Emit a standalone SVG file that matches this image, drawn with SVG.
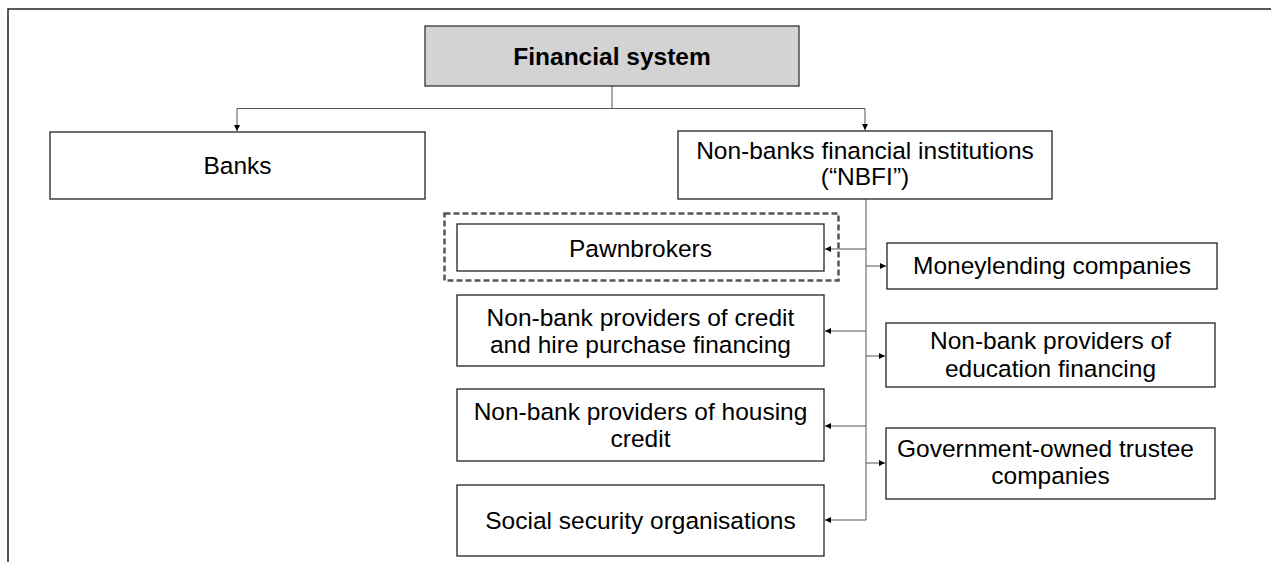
<svg xmlns="http://www.w3.org/2000/svg" width="1271" height="562" viewBox="0 0 1271 562">
  <defs>
    <marker id="arr" viewBox="0 0 10 10" refX="10" refY="5" markerWidth="6" markerHeight="6" orient="auto" markerUnits="userSpaceOnUse">
      <path d="M0,0 L10,5 L0,10 z" fill="#000"/>
    </marker>
    <style>
      .box { fill: #fff; stroke: #222; stroke-width: 1.3; }
      .root { fill: #d3d3d3; stroke: #333; stroke-width: 1.3; }
      .dash { fill: none; stroke: #555; stroke-width: 2.5; stroke-dasharray: 6 3; }
      .lbl { font-family: "Liberation Sans", Arial, sans-serif; font-size: 24.5px; fill: #000; text-anchor: middle; }
      .bold { font-weight: bold; }
      .con { fill: none; stroke: #555; stroke-width: 1; }
      .frame { fill: none; stroke: #222; stroke-width: 1.5; }
    </style>
  </defs>

  <rect width="1271" height="562" fill="#fff"/>

  <!-- outer frame (top and left edges) -->
  <path class="frame" d="M8,562 V9 H1271"/>

  <!-- connectors -->
  <g id="connectors">
    <path class="con" d="M612,86 V108.5 H237 V131" marker-end="url(#arr)"/>
    <path class="con" d="M612,108.5 H865 V130" marker-end="url(#arr)"/>
    <path class="con" d="M866,199 V520"/>
    <path class="con" d="M866,249 H825" marker-end="url(#arr)"/>
    <path class="con" d="M866,266 H886" marker-end="url(#arr)"/>
    <path class="con" d="M866,331 H825" marker-end="url(#arr)"/>
    <path class="con" d="M866,356 H885" marker-end="url(#arr)"/>
    <path class="con" d="M866,426 H825" marker-end="url(#arr)"/>
    <path class="con" d="M866,463 H885" marker-end="url(#arr)"/>
    <path class="con" d="M866,520 H825" marker-end="url(#arr)"/>
  </g>

  <g id="financial-system">
    <rect class="root" x="425" y="26" width="374" height="60"/>
    <text class="lbl bold" x="612" y="64.5">Financial system</text>
  </g>

  <g id="banks">
    <rect class="box" x="50" y="132" width="375" height="67"/>
    <text class="lbl" x="237.5" y="174">Banks</text>
  </g>

  <g id="nbfi">
    <rect class="box" x="678" y="131" width="374" height="68"/>
    <text class="lbl" x="865" y="158.5">Non-banks financial institutions</text>
    <text class="lbl" x="865" y="185">(“NBFI”)</text>
  </g>

  <g id="pawnbrokers">
    <rect class="dash" x="444.5" y="213.5" width="394" height="67"/>
    <rect class="box" x="457" y="224" width="367" height="47"/>
    <text class="lbl" x="640.5" y="256.5">Pawnbrokers</text>
  </g>

  <g id="moneylending">
    <rect class="box" x="887" y="243" width="330" height="46"/>
    <text class="lbl" x="1052" y="274">Moneylending companies</text>
  </g>

  <g id="credit-hire-purchase">
    <rect class="box" x="457" y="295" width="367" height="71"/>
    <text class="lbl" x="640.5" y="325.5">Non-bank providers of credit</text>
    <text class="lbl" x="640.5" y="352.5">and hire purchase financing</text>
  </g>

  <g id="education-financing">
    <rect class="box" x="886" y="323" width="329" height="64"/>
    <text class="lbl" x="1050.5" y="349">Non-bank providers of</text>
    <text class="lbl" x="1050.5" y="376.5">education financing</text>
  </g>

  <g id="housing-credit">
    <rect class="box" x="457" y="389" width="367" height="72"/>
    <text class="lbl" x="640.5" y="420">Non-bank providers of housing</text>
    <text class="lbl" x="640.5" y="447">credit</text>
  </g>

  <g id="trustee-companies">
    <rect class="box" x="886" y="428" width="329" height="71"/>
    <text class="lbl" x="1045.5" y="457">Government-owned trustee</text>
    <text class="lbl" x="1050.5" y="484">companies</text>
  </g>

  <g id="social-security">
    <rect class="box" x="457" y="485" width="367" height="71"/>
    <text class="lbl" x="640.5" y="528.5">Social security organisations</text>
  </g>
</svg>
